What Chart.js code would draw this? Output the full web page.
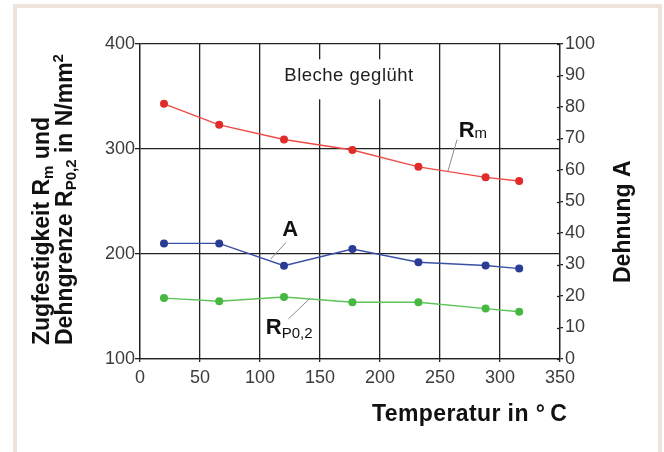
<!DOCTYPE html>
<html>
<head>
<meta charset="utf-8">
<script src="https://cdn.jsdelivr.net/npm/chart.js@4.4.1/dist/chart.umd.min.js"></script>
<style>
html, body { margin: 0; padding: 0; background: #fff; }
#wrap { position: absolute; left: 0; top: 0; width: 664px; height: 452px; overflow: hidden; }
#frame { position: absolute; left: 13px; top: 4px; width: 649px; height: 520px; border: 4px solid #eee4dc; box-sizing: border-box; }
#c { position: absolute; left: 0; top: 0; }
</style>
</head>
<body>
<div id="wrap">
  <div id="frame"></div>
  <canvas id="c" width="664" height="452"></canvas>
</div>
<script>
// Festigkeit und Dehnung über der Temperatur (Bleche geglüht)
var temps = [20, 66, 120, 177, 232, 288, 316];
var rmValues = [343, 323, 309, 299, 283, 273, 269.5];
var rp02Values = [158, 155, 159, 154, 154, 148, 145];
var dehnungValues = [36.7, 36.7, 29.6, 34.9, 30.7, 29.7, 28.7];

var xRange = [0, 350, 50];
var leftRange = [100, 400, 100];
var rightRange = [0, 100, 10];

var FONT = '"Liberation Sans", Arial, Helvetica, sans-serif';
var BOLD = 'bold 23px ' + FONT;
var BOLD_SUB = 'bold 15px ' + FONT;
var TICK_FONT = { family: FONT, size: 18 };
var TICK_COLOR = '#3c3c3c';
var GRID_COLOR = '#222';

function pts(vals) {
  return temps.map(function(t, i) { return { x: t, y: vals[i] }; });
}

// draws text made of pieces (subscripts etc.), left aligned at x, baseline y
function drawRich(ctx, parts, x, y) {
  parts.forEach(function(p) {
    ctx.font = p.f;
    ctx.fillText(p.t, x, y + (p.dy || 0));
    x += ctx.measureText(p.t).width;
  });
}

// labels inside the plot, anchored in data units of the left axis
var notes = [
  { parts: [{ t: 'R', f: 'bold 22px ' + FONT }, { t: 'm', f: '15px ' + FONT, dy: 1 }], x: 265.6, y: 311.4, from: [264.2, 308.9], to: [256.4, 278.1] },
  { parts: [{ t: 'A', f: 'bold 22px ' + FONT }], x: 118.5, y: 216.8, from: [121.7, 211], to: [108.9, 195.2] },
  { parts: [{ t: 'R', f: 'bold 22px ' + FONT }, { t: 'P0,2', f: '15px ' + FONT, dy: 4 }], x: 104.8, y: 124.1, from: [123.6, 138.1], to: [141.1, 157.1] }
];

var notesPlugin = {
  id: 'notes',
  beforeDatasetsDraw: function(chart) {
    var ctx = chart.ctx, sx = chart.scales.x, sy = chart.scales.y;
    ctx.save();
    ctx.font = '18.5px ' + FONT;
    ctx.letterSpacing = '0.5px';
    var txt = 'Bleche geglüht';
    var w = ctx.measureText(txt).width;
    var cx = sx.getPixelForValue(174.2);
    var top = sy.getPixelForValue(385.4), bot = sy.getPixelForValue(347.3);
    ctx.fillStyle = '#fff';
    ctx.fillRect(cx - w / 2 - 6, top, w + 12, bot - top);
    ctx.fillStyle = '#1e1e1e';
    ctx.textBaseline = 'alphabetic';
    ctx.fillText(txt, cx - w / 2, sy.getPixelForValue(364.5));
    ctx.restore();
  },
  afterDatasetsDraw: function(chart) {
    var ctx = chart.ctx, sx = chart.scales.x, sy = chart.scales.y;
    ctx.save();
    notes.forEach(function(n) {
      ctx.strokeStyle = '#8a8a8a';
      ctx.lineWidth = 1;
      ctx.beginPath();
      ctx.moveTo(sx.getPixelForValue(n.from[0]), sy.getPixelForValue(n.from[1]));
      ctx.lineTo(sx.getPixelForValue(n.to[0]), sy.getPixelForValue(n.to[1]));
      ctx.stroke();
      ctx.fillStyle = '#111';
      drawRich(ctx, n.parts, sx.getPixelForValue(n.x), sy.getPixelForValue(n.y));
    });
    ctx.restore();
  },
  afterDraw: function(chart) {
    var ctx = chart.ctx, area = chart.chartArea, r = chart.scales.y1;
    ctx.save();
    // right axis ticks cross the axis line
    ctx.strokeStyle = GRID_COLOR;
    ctx.lineWidth = 1.3;
    r.ticks.forEach(function(t) {
      var y = Math.round(r.getPixelForValue(t.value)) + 0.5;
      ctx.beginPath();
      ctx.moveTo(area.right - 3, y);
      ctx.lineTo(area.right, y);
      ctx.stroke();
    });

    ctx.fillStyle = '#111';
    ctx.textBaseline = 'alphabetic';
    // left title, two rotated lines
    ctx.save();
    ctx.translate(49, 345);
    ctx.rotate(-Math.PI / 2);
    drawRich(ctx, [{ t: 'Zugfestigkeit R', f: BOLD }, { t: 'm', f: BOLD_SUB, dy: 4 }, { t: ' und', f: BOLD }], 0, 0);
    ctx.restore();
    ctx.save();
    ctx.translate(72, 345);
    ctx.rotate(-Math.PI / 2);
    drawRich(ctx, [{ t: 'Dehngrenze R', f: BOLD }, { t: 'P0,2', f: BOLD_SUB, dy: 4 }, { t: ' in N/mm', f: BOLD }, { t: '2', f: BOLD_SUB, dy: -9 }], 0, 0);
    ctx.restore();
    // right title
    ctx.save();
    ctx.translate(630, 283);
    ctx.rotate(-Math.PI / 2);
    drawRich(ctx, [{ t: 'Dehnung A', f: BOLD }], 0, 0);
    ctx.restore();
    // bottom title
    ctx.letterSpacing = '0.4px';
    drawRich(ctx, [{ t: 'Temperatur in ', f: BOLD }, { t: '°\u2009C', f: BOLD }], 372, 421);
    ctx.restore();
  }
};

new Chart(document.getElementById('c').getContext('2d'), {
  type: 'line',
  data: {
    datasets: [{
      label: 'Rm',
      data: pts(rmValues),
      yAxisID: 'y',
      borderColor: '#ee4b46',
      backgroundColor: '#e02b2b',
      pointBackgroundColor: '#e02b2b',
      borderWidth: 1.4,
      pointRadius: 4,
      pointBorderWidth: 0,
      tension: 0
    }, {
      label: 'A',
      data: pts(dehnungValues),
      yAxisID: 'y1',
      borderColor: '#3a4fa6',
      backgroundColor: '#2a3c96',
      pointBackgroundColor: '#2a3c96',
      borderWidth: 1.4,
      pointRadius: 4,
      pointBorderWidth: 0,
      tension: 0
    }, {
      label: 'Rp0,2',
      data: pts(rp02Values),
      yAxisID: 'y',
      borderColor: '#5cc458',
      backgroundColor: '#45b842',
      pointBackgroundColor: '#45b842',
      borderWidth: 1.4,
      pointRadius: 4,
      pointBorderWidth: 0,
      tension: 0
    }]
  },
  options: {
    responsive: false,
    animation: false,
    devicePixelRatio: 1,
    layout: { padding: { top: 44, left: 0, right: 0, bottom: 0 } },
    plugins: { legend: { display: false }, tooltip: { enabled: false } },
    scales: {
      x: {
        type: 'linear',
        min: xRange[0], max: xRange[1],
        ticks: { stepSize: xRange[2], font: TICK_FONT, color: TICK_COLOR, padding: 5, maxRotation: 0, autoSkip: false },
        grid: { color: GRID_COLOR, lineWidth: 1.3, tickLength: 3 },
        border: { color: GRID_COLOR, width: 1.3 },
        afterFit: function(s) { s.height = 93; }
      },
      y: {
        position: 'left',
        min: leftRange[0], max: leftRange[1],
        ticks: { stepSize: leftRange[2], font: TICK_FONT, color: TICK_COLOR, padding: 0 },
        grid: { color: GRID_COLOR, lineWidth: 1.3, tickLength: 5 },
        border: { color: GRID_COLOR, width: 1.3 },
        afterFit: function(s) { s.width = 140; }
      },
      y1: {
        position: 'right',
        min: rightRange[0], max: rightRange[1],
        ticks: { stepSize: rightRange[2], font: TICK_FONT, color: TICK_COLOR, padding: 2 },
        grid: { drawOnChartArea: false, color: GRID_COLOR, lineWidth: 1.3, tickLength: 3 },
        border: { color: GRID_COLOR, width: 1.3 },
        afterFit: function(s) { s.width = 104; }
      }
    }
  },
  plugins: [notesPlugin]
});
</script>
</body>
</html>
